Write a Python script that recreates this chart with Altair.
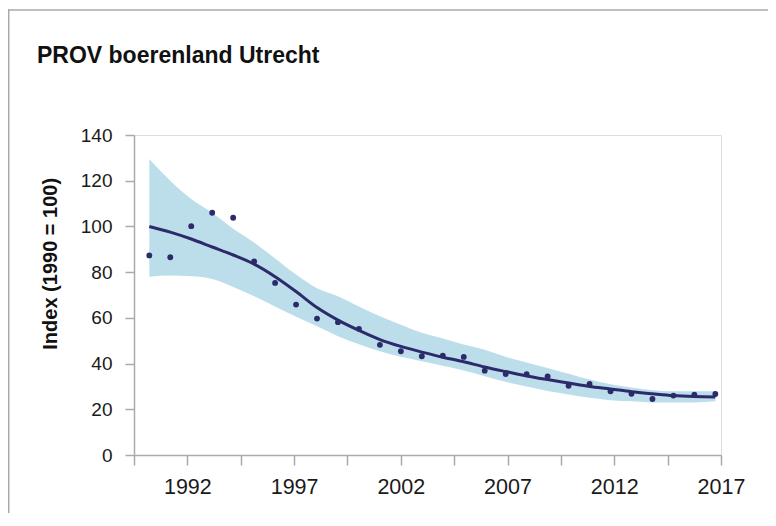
import altair as alt
import pandas as pd

# ---- data ----
years = list(range(1990, 2018))
index_values = [87.3, 86.5, 100.1, 106.0, 103.8, 84.7, 75.3, 65.8, 59.7, 58.1,
                55.2, 48.2, 45.4, 43.2, 43.5, 42.9, 36.9, 35.4, 35.4, 34.4,
                30.3, 31.1, 27.9, 26.8, 24.5, 26.0, 26.4, 26.7]
trend = [100, 97.5, 94.5, 91, 87.5, 83.5, 78, 71.5, 64.5, 59,
         54.5, 50.5, 47.5, 45, 42.8, 40.8, 38.5, 36.5, 34.6, 33,
         31.5, 30, 28.9, 27.7, 26.8, 26, 25.6, 25.4]
upper = [129.5, 120, 112, 106, 99, 93, 86, 79, 73, 69.5,
         65, 60.7, 57, 53.5, 51, 48.3, 46, 43, 40.5, 38.1,
         35.5, 33, 31, 29.5, 28.3, 27.9, 27.9, 27.9]
lower = [78, 78.5, 78.2, 77, 73.5, 69.5, 65, 60.5, 56.3, 52,
         48.5, 45.4, 43, 41, 39, 37, 34.5, 32, 30, 28,
         26.5, 25, 24, 23.5, 23, 23, 23, 23.5]
tick_labels = ["", "1992", "", "1997", "", "2002", "", "2007", "", "2012", "", "2017"]
y_ticks = [0, 20, 40, 60, 80, 100, 120, 140]

df = pd.DataFrame({"year": years, "index": index_values, "trend": trend,
                   "upper": upper, "lower": lower})

x_domain = [1989.27, 2017.27]
n_int = len(tick_labels) - 1
x_ticks = [x_domain[0] + k * (x_domain[1] - x_domain[0]) / n_int for k in range(len(tick_labels))]
label_arr = "[" + ",".join("'" + t + "'" for t in tick_labels) + "]"

NAVY = "#2c2a6b"
BAND = "#bcdeeb"
AXIS = "#aaaaaa"
FONT = "Liberation Sans"

x_enc = alt.X("year:Q",
              scale=alt.Scale(domain=x_domain, nice=False, zero=False),
              axis=alt.Axis(values=x_ticks, labelExpr=label_arr + "[round(datum.index*" + str(n_int) + ")]",
                            grid=False, title=None, domainColor=AXIS, domainWidth=1.5,
                            tickColor=AXIS, tickWidth=1.5, tickSize=10, labelPadding=11,
                            labelFontSize=21.5, labelFont=FONT, labelColor="#1a1a1a",
                            labelFlush=False, labelOverlap=False))
y_scale = alt.Scale(domain=[0, 140], nice=False)

base = alt.Chart(df)

band = base.mark_area(color=BAND, opacity=1, interpolate="monotone").encode(
    x=x_enc,
    y=alt.Y("upper:Q", scale=y_scale,
            axis=alt.Axis(values=y_ticks, grid=False, title="Index (1990 = 100)",
                          titleFont=FONT, titleFontSize=20, titleFontWeight="bold",
                          titleColor="#111111", titleX=-77.3, titleY=128.3,
                          titleBaseline="alphabetic", titleAlign="center", titleAngle=270,
                          domainColor=AXIS, domainWidth=1.5, tickColor=AXIS, tickWidth=1.5,
                          tickSize=9, labelPadding=13, labelFontSize=19, labelFont=FONT,
                          labelColor="#1a1a1a")),
    y2="lower:Q",
)

line = base.mark_line(color=NAVY, strokeWidth=3, interpolate="monotone").encode(
    x="year:Q", y="trend:Q")

points = base.mark_circle(color=NAVY, size=34, opacity=1).encode(
    x="year:Q", y="index:Q")

frame_df = pd.DataFrame({"k": [0]})
frame_top = alt.Chart(frame_df).mark_rule(color="#a8a8a8", strokeWidth=1.5).encode(
    x=alt.value(-126), x2=alt.value(640), y=alt.value(-125))
frame_left = alt.Chart(frame_df).mark_rule(color="#a8a8a8", strokeWidth=1.5).encode(
    x=alt.value(-125.3), y=alt.value(-125.7), y2=alt.value(400))

chart = alt.layer(band, line, points, frame_top, frame_left).properties(
    width=587, height=320,
    autosize=alt.AutoSizeParams(type="none"),
    padding={"left": 126, "top": 127, "right": 47, "bottom": 58},
    title=alt.TitleParams("PROV boerenland Utrecht", anchor="start", frame="group",
                          dx=-97, dy=77, offset=0, baseline="alphabetic",
                          font=FONT, fontSize=23, fontWeight="bold", color="#111111"),
).configure_view(stroke=None).configure(background="white")

chart.save("out.html", embed_options={"renderer": "svg", "actions": False})
